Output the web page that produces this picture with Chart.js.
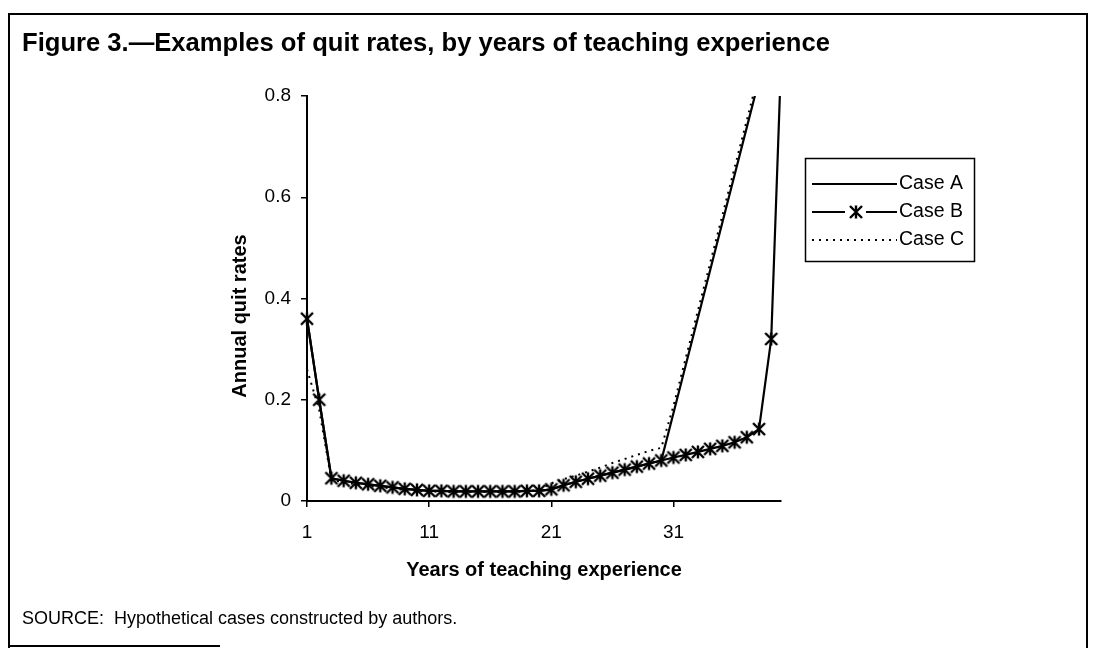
<!DOCTYPE html>
<html>
<head>
<meta charset="utf-8">
<script src="https://cdn.jsdelivr.net/npm/chart.js@4.4.1/dist/chart.umd.min.js"></script>
<style>
html,body{margin:0;padding:0;background:#fff;}
#wrap{width:1094px;height:648px;position:relative;}
</style>
</head>
<body>
<div id="wrap"><canvas id="c" width="1094" height="648"></canvas></div>
<script>
// ---- data ----
const years = [1,2,3,4,5,6,7,8,9,10,11,12,13,14,15,16,17,18,19,20,21,22,23,24,25,26,27,28,29,30,31,32,33,34,35,36,37,38,39,40];
const caseA = [0.36,0.20,0.045,0.04,0.036,0.033,0.03,0.027,0.024,0.022,0.02,0.02,0.019,0.019,0.019,0.019,0.019,0.019,0.02,0.02,
               0.023,0.031,0.038,0.044,0.05,0.056,0.062,0.068,0.074,0.08,0.174,0.268,0.362,0.456,0.55,0.644,0.738,0.832,0.926,1.02];
const caseB = [0.36,0.20,0.045,0.04,0.036,0.033,0.03,0.027,0.024,0.022,0.02,0.02,0.019,0.019,0.019,0.019,0.019,0.019,0.02,0.02,
               0.023,0.031,0.038,0.044,0.05,0.056,0.062,0.068,0.074,0.08,0.086,0.091,0.097,0.103,0.109,0.116,0.126,0.142,0.32,1.0];
const caseC = [0.26,0.18,0.042,0.037,0.033,0.03,0.027,0.025,0.022,0.02,0.019,0.018,0.018,0.018,0.018,0.018,0.018,0.018,0.019,0.022,
               0.035,0.043,0.05,0.058,0.066,0.075,0.083,0.091,0.099,0.105,0.188,0.282,0.376,0.47,0.564,0.658,0.752,0.846,0.94,1.03];
const seriesNames = ['Case A','Case B','Case C'];
const xTickValues = [1, 11, 21, 31];
const yTickValues = [0, 0.2, 0.4, 0.6, 0.8];
const chartTitle = 'Figure 3.\u2014Examples of quit rates, by years of teaching experience';
const xAxisTitle = 'Years of teaching experience';
const yAxisTitle = 'Annual quit rates';
const sourceNote = 'SOURCE:  Hypothetical cases constructed by authors.';

// ---- styling ----
const FONT = "'Liberation Sans', Arial, Helvetica, sans-serif";

function makeStarMarker() {
  const cv = document.createElement('canvas');
  cv.width = 16; cv.height = 16;
  const g = cv.getContext('2d');
  g.strokeStyle = '#000';
  g.lineWidth = 2.4;
  g.lineCap = 'butt';
  g.beginPath();
  g.moveTo(2, 2); g.lineTo(14, 14);
  g.moveTo(14, 2); g.lineTo(2, 14);
  g.moveTo(8, 1.5); g.lineTo(8, 14.5);
  g.stroke();
  return cv;
}
const starMarker = makeStarMarker();

function toPoints(vals) { return years.map((yr, i) => ({x: yr, y: vals[i]})); }

const clipArea = { left: 10, right: 0, top: 0, bottom: 10 };
const datasets = [
  { label: seriesNames[0], data: toPoints(caseA), borderColor: '#000', borderWidth: 2.2, borderDash: [], pointRadius: 0, tension: 0, clip: clipArea },
  { label: seriesNames[1], data: toPoints(caseB), borderColor: '#000', borderWidth: 2.2, borderDash: [], pointStyle: starMarker, pointRadius: 7, tension: 0, clip: clipArea },
  { label: seriesNames[2], data: toPoints(caseC), borderColor: '#000', borderWidth: 2, borderDash: [2, 5], pointRadius: 0, tension: 0, clip: clipArea }
];

const deco = {
  id: 'deco',
  beforeDraw(chart) {
    const c = chart.ctx;
    c.save();
    c.fillStyle = '#fff';
    c.fillRect(0, 0, chart.width, chart.height);
    c.restore();
  },
  afterDraw(chart) {
    const c = chart.ctx;
    c.save();
    // frame
    c.strokeStyle = '#000';
    c.lineWidth = 2;
    c.setLineDash([]);
    c.beginPath();
    c.moveTo(9, 648); c.lineTo(9, 14); c.lineTo(1087, 14); c.lineTo(1087, 648);
    c.moveTo(9, 646); c.lineTo(220, 646);
    c.stroke();

    c.fillStyle = '#000';
    // title
    c.font = 'bold 25.6px ' + FONT;
    c.textAlign = 'left';
    c.textBaseline = 'middle';
    c.fillText(chartTitle, 22, 44);
    // source
    c.font = '18px ' + FONT;
    c.fillText(sourceNote, 22, 619);
    // y axis title
    c.save();
    c.translate(240, 316);
    c.rotate(-Math.PI / 2);
    c.font = 'bold 20px ' + FONT;
    c.textAlign = 'center';
    c.textBaseline = 'middle';
    c.fillText(yAxisTitle, 0, 0);
    c.restore();

    // legend
    c.lineWidth = 1.5;
    c.strokeRect(805.5, 158.5, 169, 103);
    const rows = [184, 212, 240];
    chart.data.datasets.forEach((ds, i) => {
      const y = rows[i];
      c.strokeStyle = ds.borderColor;
      c.lineWidth = ds.borderWidth;
      c.setLineDash(ds.borderDash || []);
      c.beginPath();
      if (ds.pointStyle && typeof ds.pointStyle !== 'string') {
        c.moveTo(812, y); c.lineTo(845, y);
        c.moveTo(866, y); c.lineTo(897, y);
        c.stroke();
        c.drawImage(ds.pointStyle, 856 - ds.pointStyle.width / 2, y - ds.pointStyle.height / 2);
      } else {
        c.moveTo(812, y); c.lineTo(897, y);
        c.stroke();
      }
      c.setLineDash([]);
      c.fillStyle = '#000';
      c.font = '19.5px ' + FONT;
      c.textAlign = 'left';
      c.textBaseline = 'middle';
      c.fillText(ds.label, 899, y);
    });
    c.restore();
  }
};

new Chart(document.getElementById('c'), {
  type: 'line',
  data: { datasets },
  options: {
    responsive: false,
    animation: false,
    devicePixelRatio: 1,
    layout: { padding: { left: 225, right: 313, top: 96, bottom: 62 } },
    plugins: { legend: { display: false }, tooltip: { enabled: false }, title: { display: false } },
    scales: {
      x: {
        type: 'linear',
        min: 1, max: 39.8,
        afterBuildTicks: s => { s.ticks = xTickValues.map(v => ({ value: v })); },
        afterFit: s => { s.height = 85; },
        ticks: { color: '#000', font: { family: FONT, size: 19 }, padding: 14, maxRotation: 0, autoSkip: false },
        grid: { drawOnChartArea: false, drawTicks: true, tickLength: 6, color: '#000', lineWidth: 1.5 },
        border: { display: true, color: '#000', width: 2 },
        title: { display: true, text: xAxisTitle, color: '#000', font: { family: FONT, size: 20, weight: 'bold' }, padding: { top: 4, bottom: 4 } }
      },
      y: {
        type: 'linear',
        min: 0, max: 0.8,
        afterBuildTicks: s => { s.ticks = yTickValues.map(v => ({ value: v })); },
        afterFit: s => { s.width = 82; },
        ticks: { color: '#000', font: { family: FONT, size: 19 }, padding: 10, callback: v => (v === 0 ? '0' : v.toFixed(1)) },
        grid: { drawOnChartArea: false, drawTicks: true, tickLength: 6, color: '#000', lineWidth: 1.5 },
        border: { display: true, color: '#000', width: 2 },
        title: { display: false }
      }
    }
  },
  plugins: [deco]
});
</script>
</body>
</html>
